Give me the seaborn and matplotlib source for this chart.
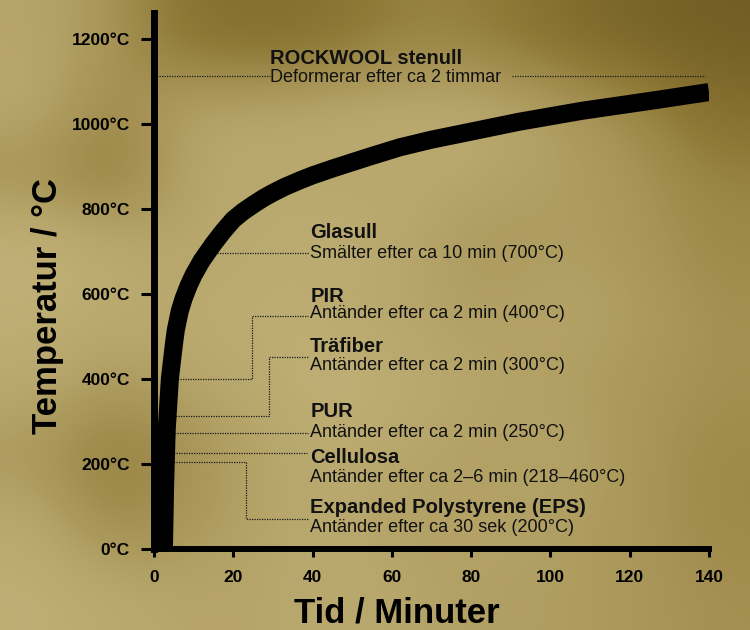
import matplotlib
matplotlib.use("Agg")
import numpy as np
import pandas as pd
import matplotlib.pyplot as plt
from matplotlib.colors import LinearSegmentedColormap
import seaborn as sns

# --- data ---
# standard fire curve (minutes, degrees C)
time_min = [2.5, 2.8, 3.2, 4.0, 5.0, 5.5, 6.5, 7.5, 8.75, 10, 12, 15, 17.5,
            20, 22.5, 25, 27.5, 30, 33, 37, 40, 45, 50, 54, 62, 70, 80, 92,
            108, 125, 140]
temp_c = [0, 150, 280, 400, 480, 515, 560, 590, 620, 645, 678, 718, 748,
          775, 794, 810, 825, 838, 852, 868, 879, 895, 910, 922, 945, 963,
          982, 1005, 1031, 1054, 1075]

materials = ["ROCKWOOL stenull", "Glasull", "PIR", "Träfiber", "PUR",
             "Cellulosa", "Expanded Polystyrene (EPS)"]
descriptions = ["Deformerar efter ca 2 timmar",
                "Smälter efter ca 10 min (700°C)",
                "Antänder efter ca 2 min (400°C)",
                "Antänder efter ca 2 min (300°C)",
                "Antänder efter ca 2 min (250°C)",
                "Antänder efter ca 2–6 min (218–460°C)",
                "Antänder efter ca 30 sek (200°C)"]
# temperature where each leader line leaves the curve
leader_temp = [1113, 696, 400, 313, 273, 226, 205]

y_ticks = [0, 200, 400, 600, 800, 1000, 1200]
x_ticks = [0, 20, 40, 60, 80, 100, 120, 140]

# --- layout of the labels (data coords) ---
text_x = [29.3, 39.4, 39.4, 39.4, 39.4, 39.4, 39.4]
title_y = [1141, 732, 581, 463, 311, 202, 85]
sub_y = [1099, 685, 543, 421, 263, 158, 40]
# (x of the step, y where the leader meets the label) or None for straight
elbows = [None, None, (24.7, 548), (29.0, 452), None, None, (23.2, 71)]
leader_end = [29.3, 39.1, 38.9, 38.9, 38.9, 38.6, 38.9]

sns.set_theme(style="ticks")
plt.rcParams["font.family"] = ["Liberation Sans", "DejaVu Sans"]

fig = plt.figure(figsize=(7.5, 6.3), dpi=100)

# mottled stone-wool background
bg_grid = np.array([
    [0.35, 0.45, 0.75, 0.80, 0.75, 0.60, 0.65, 0.80, 0.90, 0.95],
    [0.30, 0.55, 0.35, 0.35, 0.30, 0.30, 0.30, 0.40, 0.55, 0.80],
    [0.50, 0.65, 0.35, 0.30, 0.35, 0.30, 0.35, 0.40, 0.45, 0.60],
    [0.20, 0.30, 0.35, 0.30, 0.25, 0.35, 0.45, 0.40, 0.45, 0.55],
    [0.25, 0.30, 0.30, 0.25, 0.30, 0.35, 0.40, 0.35, 0.40, 0.50],
    [0.30, 0.45, 0.35, 0.30, 0.20, 0.30, 0.35, 0.40, 0.45, 0.50],
    [0.45, 0.65, 0.50, 0.35, 0.30, 0.35, 0.40, 0.35, 0.45, 0.55],
    [0.30, 0.55, 0.45, 0.35, 0.30, 0.40, 0.35, 0.40, 0.45, 0.55],
    [0.25, 0.30, 0.35, 0.35, 0.30, 0.35, 0.40, 0.40, 0.45, 0.50],
])
stone = LinearSegmentedColormap.from_list(
    "stone", ["#d2c590", "#b8a76c", "#8f7a38", "#6e5a20"])
bg = fig.add_axes([0, 0, 1, 1], zorder=-1)
bg.imshow(bg_grid, cmap=stone, vmin=0, vmax=1, interpolation="bicubic",
          aspect="auto", extent=[0, 1, 0, 1])
bg.set_axis_off()

ax = fig.add_axes([154 / 750, 81 / 630, 555 / 750, 536 / 630])
ax.patch.set_alpha(0)

df = pd.DataFrame({"Tid": time_min, "Temperatur": temp_c})

# leader lines first, so the thick curve covers their start
dot = dict(color="#1a1a1a", lw=0.9, ls=(0, (1, 1)), zorder=2)
for i, t_lead in enumerate(leader_temp):
    if i == 0:
        ax.plot([0, leader_end[0]], [t_lead, t_lead], **dot)
        ax.plot([90.3, 139], [t_lead, t_lead], **dot)
        continue
    x0 = float(np.interp(t_lead, temp_c, time_min))
    if elbows[i] is None:
        ax.plot([x0, leader_end[i]], [t_lead, t_lead], **dot)
    else:
        ex, ey = elbows[i]
        ax.plot([x0, ex, ex, leader_end[i]], [t_lead, t_lead, ey, ey], **dot)

sns.lineplot(data=df, x="Tid", y="Temperatur", ax=ax, color="black",
             lw=13, sort=False, zorder=3)
for line in ax.get_lines():
    line.set_solid_capstyle("butt")
    line.set_solid_joinstyle("round")

for i, name in enumerate(materials):
    ax.text(text_x[i], title_y[i], name, fontsize=14.5, fontweight="bold",
            color="#111111", ha="left", va="baseline")
    ax.text(text_x[i], sub_y[i], descriptions[i], fontsize=13,
            color="#111111", ha="left", va="baseline")

ax.set_xlim(0, 140)
ax.set_ylim(0, 1261)
ax.set_xticks(x_ticks)
ax.set_xticklabels([str(v) for v in x_ticks])
ax.set_yticks(y_ticks)
ax.set_yticklabels([f"{v}°C" for v in y_ticks])
ax.tick_params(axis="y", length=9.5, width=2.2, pad=8, labelsize=12.5,
               colors="black")
ax.tick_params(axis="x", length=6, width=2.2, pad=9, labelsize=12.5,
               colors="black")
for lab in ax.get_xticklabels() + ax.get_yticklabels():
    lab.set_fontweight("bold")

sns.despine(ax=ax)
ax.spines["left"].set_linewidth(5)
ax.spines["bottom"].set_linewidth(4.3)
ax.spines["left"].set_color("black")
ax.spines["bottom"].set_color("black")
ax.grid(False)

ax.set_xlabel("Tid / Minuter", fontsize=25, fontweight="bold", color="black")
ax.set_ylabel("Temperatur / °C", fontsize=25, fontweight="bold", color="black")
ax.xaxis.set_label_coords(0.438, -0.088)
ax.yaxis.set_label_coords(-0.162, 0.453)

fig.savefig("out.png", dpi=100)
